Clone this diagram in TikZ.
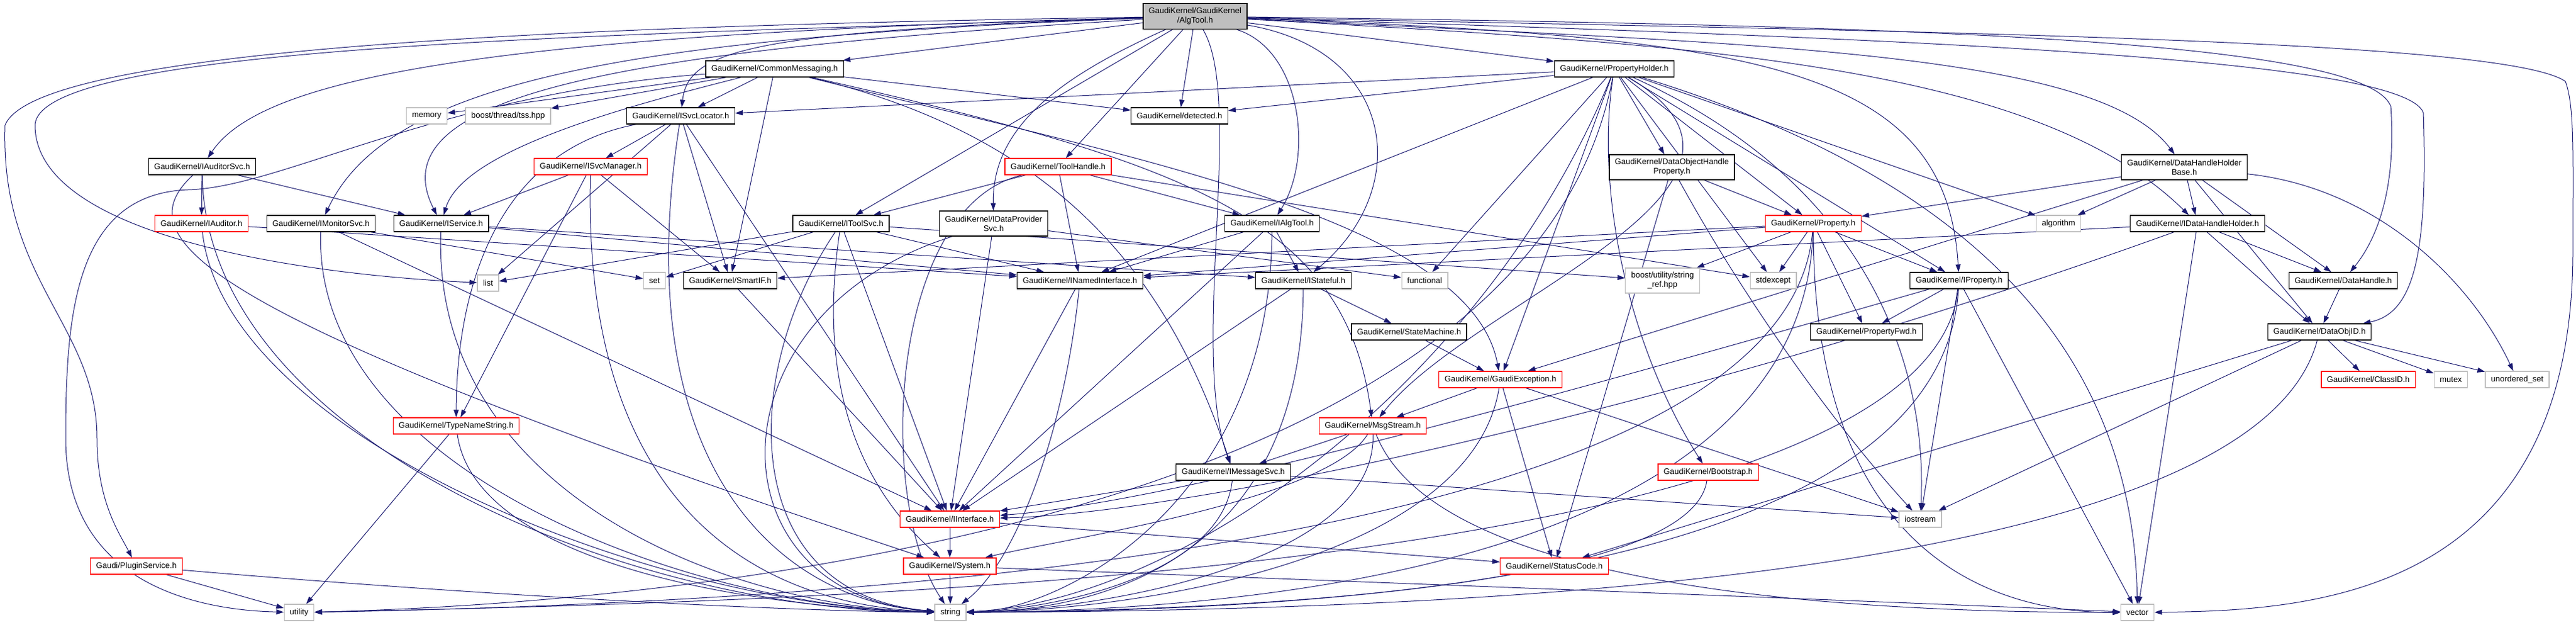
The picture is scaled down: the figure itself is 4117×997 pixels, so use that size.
\documentclass[tikz,border=0pt]{standalone}
\usepackage{fontspec}
\setmainfont{Liberation Sans}
\usetikzlibrary{arrows.meta}
\definecolor{edgeblue}{RGB}{25,25,112}
\definecolor{extgray}{RGB}{191,191,191}
\pgfdeclarelayer{background}
\pgfsetlayers{background,main}

\begin{document}
\begin{tikzpicture}[x=1pt,y=-1pt,
  box/.style={draw, fill=white, line width=1.3pt, inner xsep=9pt, inner ysep=2pt,
    minimum height=26pt, font=\fontsize{13}{15}\selectfont, align=center},
  hdr/.style={box, draw=black},
  trunc/.style={box, draw=red},
  ext/.style={box, draw=extgray},
  root/.style={box, draw=black, fill=extgray, minimum height=41pt},
  inc/.style={edgeblue, line width=1pt, -{Triangle[length=12pt,width=8pt]}}]

\useasboundingbox (0,0) rectangle (4117,997);

%% headers
\node[root] (algtool) at (1910,26) {GaudiKernel/GaudiKernel\\/AlgTool.h};
\node[hdr] (commsg) at (1238,110) {GaudiKernel/CommonMessaging.h};
\node[hdr] (propholder) at (2580,110) {GaudiKernel/PropertyHolder.h};
\node[ext] (memory) at (682,185) {memory};
\node[ext] (tss) at (812,185) {boost/thread/tss.hpp};
\node[hdr] (svcloc) at (1088,185) {GaudiKernel/ISvcLocator.h};
\node[hdr] (detected) at (1885,185) {GaudiKernel/detected.h};
\node[hdr] (auditorsvc) at (323,266) {GaudiKernel/IAuditorSvc.h};
\node[trunc] (svcmgr) at (944,266) {GaudiKernel/ISvcManager.h};
\node[trunc] (toolhandle) at (1691,266) {GaudiKernel/ToolHandle.h};
\node[hdr, minimum height=40pt] (dohprop) at (2672,267) {GaudiKernel/DataObjectHandle\\Property.h};
\node[hdr, minimum height=40pt] (dhhbase) at (3491,267) {GaudiKernel/DataHandleHolder\\Base.h};
\node[trunc] (auditor) at (322,357) {GaudiKernel/IAuditor.h};
\node[hdr] (monitorsvc) at (513,357) {GaudiKernel/IMonitorSvc.h};
\node[hdr] (iservice) at (705,357) {GaudiKernel/IService.h};
\node[hdr] (toolsvc) at (1344,357) {GaudiKernel/IToolSvc.h};
\node[hdr, minimum height=40pt] (dataprov) at (1588,357) {GaudiKernel/IDataProvider\\Svc.h};
\node[hdr] (ialgtool) at (2033,357) {GaudiKernel/IAlgTool.h};
\node[trunc] (property) at (2898,357) {GaudiKernel/Property.h};
\node[ext] (algorithm) at (3290,357) {algorithm};
\node[hdr] (idhholder) at (3512,357) {GaudiKernel/IDataHandleHolder.h};
\node[ext] (list) at (780,452) {list};
\node[ext] (set) at (1046,448) {set};
\node[hdr] (smartif) at (1167,448) {GaudiKernel/SmartIF.h};
\node[hdr] (namedif) at (1726,448) {GaudiKernel/INamedInterface.h};
\node[hdr] (stateful) at (2083,448) {GaudiKernel/IStateful.h};
\node[ext] (functional) at (2277,448) {functional};
\node[ext, minimum height=40pt] (strref) at (2657,448) {boost/utility/string\\\_ref.hpp};
\node[ext] (stdexcept) at (2834,448) {stdexcept};
\node[hdr] (iproperty) at (3131,448) {GaudiKernel/IProperty.h};
\node[hdr] (datahandle) at (3745,448) {GaudiKernel/DataHandle.h};
\node[hdr] (statemachine) at (2252,530) {GaudiKernel/StateMachine.h};
\node[hdr] (propfwd) at (2983,530) {GaudiKernel/PropertyFwd.h};
\node[hdr] (dataobjid) at (3707,530) {GaudiKernel/DataObjID.h};
\node[trunc] (gexception) at (2398,606) {GaudiKernel/GaudiException.h};
\node[trunc] (classid) at (3785,606) {GaudiKernel/ClassID.h};
\node[ext] (mutex) at (3917,606) {mutex};
\node[ext] (uset) at (4023,606) {unordered\_set};
\node[trunc] (typestr) at (729,680) {GaudiKernel/TypeNameString.h};
\node[trunc] (msgstream) at (2194,680) {GaudiKernel/MsgStream.h};
\node[hdr] (messagesvc) at (1971,754) {GaudiKernel/IMessageSvc.h};
\node[trunc] (bootstrap) at (2730,754) {GaudiKernel/Bootstrap.h};
\node[trunc] (iinterface) at (1518,829) {GaudiKernel/IInterface.h};
\node[ext] (iostream) at (3069,829) {iostream};
\node[trunc] (plugin) at (218,904) {Gaudi/PluginService.h};
\node[trunc] (system) at (1518,904) {GaudiKernel/System.h};
\node[trunc] (statuscode) at (2484,904) {GaudiKernel/StatusCode.h};
\node[ext] (utility) at (478,978) {utility};
\node[ext] (string) at (1519,978) {string};
\node[ext] (vector) at (3416,978) {vector};

\begin{pgfonlayer}{background}
%% AlgTool.h
\draw[inc] (algtool) -- (commsg);
\draw[inc] (algtool) -- (propholder);
\draw[inc] (algtool) -- (detected);
\draw[inc] (algtool) -- (toolhandle);
\draw[inc] (algtool) -- (toolsvc);
\draw[inc] (algtool) .. controls (1200,50) and (1100,80) .. (svcloc);
\draw[inc] (algtool) .. controls (800,55) and (420,120) .. (auditorsvc);
\draw[inc] (algtool) .. controls (1000,60) and (620,130) .. (monitorsvc);
\draw[inc] (algtool) .. controls (1000,80) and (600,150) .. (iservice);
\draw[inc] (algtool) .. controls (1700,120) and (1585,200) .. (dataprov);
\draw[inc] (algtool) .. controls (2080,80) and (2100,250) .. (ialgtool);
\draw[inc] (algtool) .. controls (2230,80) and (2260,300) .. (stateful);
\draw[inc] (algtool) .. controls (1990,160) and (1900,560) .. (messagesvc);
\draw[inc] (algtool) .. controls (2800,70) and (3350,80) .. (dhhbase);
\draw[inc] (algtool) .. controls (2700,70) and (3250,100) .. (idhholder);
\draw[inc] (algtool) .. controls (2800,60) and (3110,100) .. (iproperty);
\draw[inc] (algtool) .. controls (3000,40) and (3780,60) .. (3821,170)
  .. controls (3830,300) and (3800,380) .. (datahandle);
\draw[inc] (algtool) .. controls (3000,60) and (3840,90) .. (3873,180)
  .. controls (3880,400) and (3860,500) .. (dataobjid);
\draw[inc] (algtool) .. controls (3000,50) and (4000,60) .. (4100,130)
  .. controls (4115,170) and (4112,250) .. (4112,400)
  .. controls (4112,950) and (3700,975) .. (vector);
\draw[inc] (algtool) .. controls (1000,55) and (60,70) .. (56,200)
  .. controls (56,380) and (500,440) .. (list);
\draw[inc] (algtool) .. controls (1000,40) and (60,70) .. (8,200)
  .. controls (0,450) and (155,520) .. (155,700)
  .. controls (155,800) and (190,850) .. (plugin);

%% CommonMessaging.h
\draw[inc] (commsg) -- (memory);
\draw[inc] (commsg) -- (tss);
\draw[inc] (commsg) -- (svcloc);
\draw[inc] (commsg) -- (detected);
\draw[inc] (commsg) -- (smartif);
\draw[inc] (commsg) .. controls (1000,170) and (740,240) .. (iservice);
\draw[inc] (commsg) .. controls (1700,220) and (1870,450) .. (messagesvc);
\draw[inc] (commsg) .. controls (1900,260) and (2150,350) .. (msgstream);
\draw[inc] (commsg) .. controls (1800,250) and (2350,350) .. (gexception);
\draw[inc] (commsg) .. controls (700,150) and (450,300) .. (300,303)
  .. controls (120,310) and (105,500) .. (105,700)
  .. controls (105,950) and (350,975) .. (utility);

%% PropertyHolder.h
\draw[inc] (propholder) -- (svcloc);
\draw[inc] (propholder) -- (detected);
\draw[inc] (propholder) -- (namedif);
\draw[inc] (propholder) -- (functional);
\draw[inc] (propholder) -- (dohprop);
\draw[inc] (propholder) -- (stdexcept);
\draw[inc] (propholder) -- (property);
\draw[inc] (propholder) -- (iproperty);
\draw[inc] (propholder) -- (algorithm);
\draw[inc] (propholder) -- (gexception);
\draw[inc] (propholder) .. controls (2900,300) and (2350,480) .. (msgstream);
\draw[inc] (propholder) .. controls (2550,300) and (2600,550) .. (bootstrap);
\draw[inc] (propholder) .. controls (3000,300) and (3080,600) .. (iostream);
\draw[inc] (propholder) .. controls (2380,600) and (1900,960) .. (string);
\draw[inc] (propholder) .. controls (3200,300) and (3410,600) .. (vector);
\draw[inc] (propholder) .. controls (2450,800) and (1200,960) .. (utility);

%% service interfaces
\draw[inc] (auditorsvc) -- (auditor);
\draw[inc] (auditorsvc) -- (iservice);
\draw[inc] (auditorsvc) .. controls (330,700) and (1000,975) .. (string);
\draw[inc] (auditorsvc) .. controls (200,380) and (300,500) .. (system);
\draw[inc] (auditor) -- (namedif);
\draw[inc] (auditor) .. controls (360,700) and (1050,970) .. (string);
\draw[inc] (monitorsvc) -- (set);
\draw[inc] (monitorsvc) -- (iinterface);
\draw[inc] (monitorsvc) .. controls (500,750) and (1100,970) .. (string);
\draw[inc] (iservice) -- (namedif);
\draw[inc] (iservice) -- (stateful);
\draw[inc] (iservice) .. controls (690,780) and (1150,968) .. (string);
\draw[inc] (svcmgr) -- (iservice);
\draw[inc] (svcmgr) -- (smartif);
\draw[inc] (svcmgr) -- (typestr);
\draw[inc] (svcmgr) .. controls (930,800) and (1200,965) .. (string);
\draw[inc] (svcloc) -- (svcmgr);
\draw[inc] (svcloc) -- (list);
\draw[inc] (svcloc) -- (smartif);
\draw[inc] (svcloc) -- (iinterface);
\draw[inc] (svcloc) .. controls (800,240) and (730,450) .. (typestr);
\draw[inc] (svcloc) .. controls (1000,750) and (1250,960) .. (string);
\draw[inc] (typestr) -- (utility);
\draw[inc] (typestr) .. controls (760,900) and (1200,970) .. (string);
\draw[inc] (plugin) -- (utility);
\draw[inc] (plugin) .. controls (700,945) and (1200,975) .. (string);

%% tools
\draw[inc] (toolhandle) -- (toolsvc);
\draw[inc] (toolhandle) -- (ialgtool);
\draw[inc] (toolhandle) -- (namedif);
\draw[inc] (toolhandle) -- (stdexcept);
\draw[inc] (toolhandle) .. controls (1420,330) and (1400,800) .. (string);
\draw[inc] (toolsvc) -- (list);
\draw[inc] (toolsvc) -- (set);
\draw[inc] (toolsvc) -- (namedif);
\draw[inc] (toolsvc) -- (strref);
\draw[inc] (toolsvc) -- (iinterface);
\draw[inc] (toolsvc) .. controls (1300,650) and (1400,800) .. (system);
\draw[inc] (toolsvc) .. controls (1180,600) and (1180,950) .. (string);
\draw[inc] (dataprov) -- (iinterface);
\draw[inc] (dataprov) -- (functional);
\draw[inc] (dataprov) .. controls (1130,500) and (1130,950) .. (string);
\draw[inc] (ialgtool) -- (namedif);
\draw[inc] (ialgtool) -- (stateful);
\draw[inc] (ialgtool) -- (iinterface);
\draw[inc] (ialgtool) .. controls (2030,800) and (1700,975) .. (string);
\draw[inc] (smartif) -- (iinterface);
\draw[inc] (namedif) -- (iinterface);
\draw[inc] (namedif) .. controls (1700,700) and (1620,900) .. (string);
\draw[inc] (stateful) -- (statemachine);
\draw[inc] (stateful) -- (iinterface);
\draw[inc] (stateful) .. controls (2080,900) and (1750,975) .. (string);
\draw[inc] (statemachine) -- (gexception);

%% messages and exceptions
\draw[inc] (gexception) -- (msgstream);
\draw[inc] (gexception) -- (statuscode);
\draw[inc] (gexception) -- (iostream);
\draw[inc] (gexception) .. controls (2350,900) and (1800,975) .. (string);
\draw[inc] (msgstream) -- (messagesvc);
\draw[inc] (msgstream) .. controls (2120,800) and (1700,860) .. (system);
\draw[inc] (msgstream) .. controls (2200,900) and (1750,975) .. (string);
\draw[inc] (msgstream) .. controls (2300,950) and (3000,978) .. (vector);
\draw[inc] (messagesvc) -- (iinterface);
\draw[inc] (messagesvc) -- (iostream);
\draw[inc] (messagesvc) .. controls (1950,930) and (1650,975) .. (string);
\draw[inc] (bootstrap) .. controls (2700,950) and (1900,975) .. (string);
\draw[inc] (iinterface) -- (system);
\draw[inc] (iinterface) -- (statuscode);
\draw[inc] (system) -- (string);
\draw[inc] (system) .. controls (2200,930) and (3000,960) .. (vector);

%% properties
\draw[inc] (dohprop) -- (property);
\draw[inc] (dohprop) -- (statuscode);
\draw[inc] (dohprop) .. controls (2800,500) and (2950,700) .. (iostream);
\draw[inc] (property) -- (iproperty);
\draw[inc] (property) -- (propfwd);
\draw[inc] (property) -- (strref);
\draw[inc] (property) -- (stdexcept);
\draw[inc] (property) -- (smartif);
\draw[inc] (property) -- (namedif);
\draw[inc] (property) .. controls (2880,900) and (2000,975) .. (string);
\draw[inc] (property) .. controls (2900,900) and (3200,978) .. (vector);
\draw[inc] (property) .. controls (2850,900) and (1200,965) .. (utility);
\draw[inc] (iproperty) -- (propfwd);
\draw[inc] (iproperty) -- (iostream);
\draw[inc] (iproperty) -- (vector);
\draw[inc] (iproperty) .. controls (2600,600) and (1900,800) .. (iinterface);
\draw[inc] (iproperty) .. controls (3100,930) and (2100,975) .. (string);
\draw[inc] (iproperty) .. controls (3080,920) and (1300,960) .. (utility);

%% data handles
\draw[inc] (dhhbase) -- (idhholder);
\draw[inc] (dhhbase) -- (algorithm);
\draw[inc] (dhhbase) -- (property);
\draw[inc] (dhhbase) -- (datahandle);
\draw[inc] (dhhbase) -- (dataobjid);
\draw[inc] (dhhbase) -- (gexception);
\draw[inc] (dhhbase) .. controls (3800,300) and (3950,450) .. (uset);
\draw[inc] (idhholder) -- (datahandle);
\draw[inc] (idhholder) -- (dataobjid);
\draw[inc] (idhholder) -- (vector);
\draw[inc] (idhholder) -- (namedif);
\draw[inc] (idhholder) .. controls (2700,650) and (1900,820) .. (iinterface);
\draw[inc] (datahandle) -- (dataobjid);
\draw[inc] (dataobjid) -- (classid);
\draw[inc] (dataobjid) -- (mutex);
\draw[inc] (dataobjid) -- (uset);
\draw[inc] (dataobjid) -- (iostream);
\draw[inc] (dataobjid) -- (statuscode);
\draw[inc] (dataobjid) .. controls (3600,930) and (2300,975) .. (string);
\end{pgfonlayer}

\end{tikzpicture}
\end{document}
